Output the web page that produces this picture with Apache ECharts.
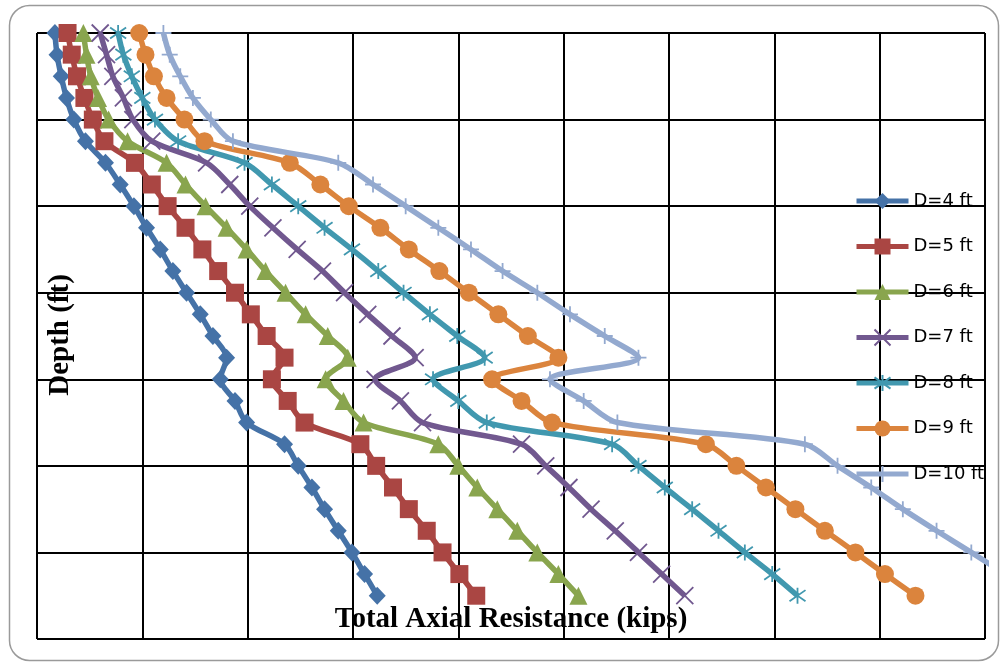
<!DOCTYPE html>
<html>
<head>
<meta charset="utf-8">
<script src="https://cdn.jsdelivr.net/npm/echarts@6/dist/echarts.min.js"></script>
<style>html,body{margin:0;padding:0;background:#fff;}#c{width:1000px;height:662px;}</style>
</head>
<body>
<div id="c"></div>
<script>
const depth = [0, 2.5, 5, 7.5, 10, 12.5, 15, 17.5, 20, 22.5, 25, 27.5, 30, 32.5, 35, 37.5, 40, 42.5, 45, 47.5, 50, 52.5, 55, 57.5, 60, 62.5, 65];
const seriesNames = ['D=4 ft', 'D=5 ft', 'D=6 ft', 'D=7 ft', 'D=8 ft', 'D=9 ft', 'D=10 ft'];
const d4 = [17, 19, 23, 28, 35, 46, 65, 79, 92, 104, 117, 129, 142, 155, 167, 180, 174, 188, 199, 235, 248, 261, 273, 286, 299, 311, 323];
const d5 = [29, 33, 38, 45, 53, 64, 93, 109, 124, 141, 157, 172, 188, 203, 218, 235, 223, 238, 254, 307, 322, 338, 353, 370, 385, 401, 417];
const d6 = [44, 47, 51, 58, 68, 86, 123, 141, 160, 180, 199, 217, 236, 255, 276, 295, 274, 291, 310, 381, 400, 418, 437, 456, 475, 495, 514];
const d7 = [60, 66, 72, 82, 91, 109, 161, 183, 202, 224, 247, 271, 292, 314, 337, 359, 321, 345, 366, 460, 483, 505, 526, 549, 571, 593, 615];
const d8 = [77, 82, 90, 100, 112, 134, 197, 223, 248, 273, 299, 324, 348, 373, 399, 425, 376, 400, 427, 546, 571, 596, 622, 647, 672, 698, 722];
const d9 = [97, 103, 111, 123, 140, 159, 240, 269, 296, 326, 353, 382, 410, 438, 466, 495, 432, 460, 489, 635, 664, 692, 720, 748, 777, 805, 834];
const d10 = [120, 126, 136, 148, 165, 186, 286, 319, 350, 381, 412, 442, 475, 506, 539, 571, 487, 519, 551, 729, 760, 792, 822, 854, 887, 919, 951];

const values = [d4, d5, d6, d7, d8, d9, d10];
const colors = ['#4572A7', '#AA4643', '#89A54E', '#71588F', '#4198AF', '#DB843D', '#93A9CF'];
const symbols = ['diamond', 'rect', 'triangle',
  'path://M0,0L10,10M10,0L0,10',
  'path://M0,1.5L10,8.5M10,1.5L0,8.5M5,0L5,10',
  'circle',
  'path://M0,5L10,5M5,0L5,10'];
const sizes = [[17, 18], 18, 18, 17, 16, 18, 16];
const stroked = [false, false, false, true, true, false, true];

const chart = echarts.init(document.getElementById('c'), null, {renderer: 'canvas'});

const series = values.map((vals, k) => ({
  name: seriesNames[k],
  type: 'line',
  smooth: 0.3,
  data: depth.map((d, i) => [vals[i], d]),
  symbol: symbols[k],
  symbolSize: sizes[k],
  showAllSymbol: true,
  lineStyle: {color: colors[k], width: 5.5},
  emphasis: {disabled: true},
  itemStyle: stroked[k]
    ? {color: 'rgba(0,0,0,0)', borderColor: colors[k], borderWidth: 1.8}
    : {color: colors[k], borderWidth: 0},
  clip: true,
  z: 3 + k,
  animation: false
}));

chart.setOption({
  animation: false,
  backgroundColor: '#fff',
  grid: {left: 37, top: 33, right: 15, bottom: 23, containLabel: false},
  xAxis: {
    type: 'value', min: 0, max: 900, interval: 100,
    axisLabel: {show: false}, axisTick: {show: false}, axisLine: {show: false},
    splitLine: {show: true, lineStyle: {color: '#000', width: 2}}
  },
  yAxis: {
    type: 'value', inverse: true, min: 0, max: 70, interval: 10,
    axisLabel: {show: false}, axisTick: {show: false}, axisLine: {show: false},
    splitLine: {show: true, lineStyle: {color: '#000', width: 2}}
  },
  legend: {
    orient: 'vertical',
    left: 849, top: 186,
    itemWidth: 52, itemHeight: 20, itemGap: 25.5,
    lineStyle: {width: 5},
    textStyle: {fontFamily: 'DejaVu Sans', fontSize: 18, color: '#000', lineHeight: 20},
    data: seriesNames
  },
  graphic: [
    {type: 'rect', z: -10, silent: true,
      shape: {x: 9.5, y: 5.5, width: 989, height: 655, r: 20},
      style: {fill: 'none', stroke: '#9a9a9a', lineWidth: 1.5}},
    {type: 'text', z: 100, silent: true,
      style: {text: 'Total Axial Resistance (kips)', x: 511, y: 620,
        font: 'bold 29px "Liberation Serif"', fill: '#000',
        textAlign: 'center', textVerticalAlign: 'middle'}},
    {type: 'text', z: 100, silent: true, x: 61, y: 335, rotation: Math.PI / 2,
      style: {text: 'Depth (ft)', x: 0, y: 0,
        font: 'bold 29px "Liberation Serif"', fill: '#000',
        textAlign: 'center', textVerticalAlign: 'middle'}}
  ],
  series: series
});
</script>
</body>
</html>
